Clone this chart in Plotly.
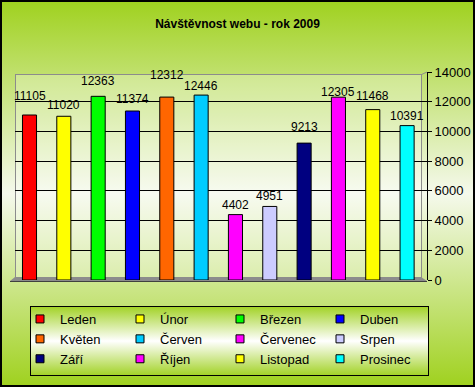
import base64
import plotly.graph_objects as go

# ---- data ----
months = ["Leden", "Únor", "Březen", "Duben", "Květen", "Červen",
          "Červenec", "Srpen", "Září", "Říjen", "Listopad", "Prosinec"]
visits = [11105, 11020, 12363, 11374, 12312, 12446,
          4402, 4951, 9213, 12305, 11468, 10391]
colors = ["#ff0000", "#ffff00", "#00ff00", "#0000ff", "#ff6600", "#00ccff",
          "#ff00ff", "#ccccff", "#000080", "#ff00ff", "#ffff00", "#00ffff"]
title_text = "Návštěvnost webu - rok 2009"
y_ticks = [0, 2000, 4000, 6000, 8000, 10000, 12000, 14000]

# ---- styling: how far (px) each value label sits above its bar top ----
label_lift = [19, 11, 15, 12, 22, 9, 10, 10, 16, 5, 14, 10]

W, H = 475, 387
L, R, T, B = 15, 427, 72, 280          # plot area in pixels


def px_x(p):
    return p / W


def px_y(p):
    return (H - p) / H


# ---- decorative background (gradient page, back wall, floor, legend box) ----
svg = f'''<svg xmlns="http://www.w3.org/2000/svg" width="{W}" height="{H}" viewBox="0 0 {W} {H}">
<defs>
<linearGradient id="bg" x1="0" y1="0" x2="0" y2="1">
<stop offset="0" stop-color="#9fd11e"/>
<stop offset="0.5" stop-color="#f5f9ec"/>
<stop offset="1" stop-color="#9fd11e"/>
</linearGradient>
<linearGradient id="lg" x1="0" y1="0" x2="0" y2="1">
<stop offset="0" stop-color="#a2d226"/>
<stop offset="0.5" stop-color="#ffffff"/>
<stop offset="1" stop-color="#a2d226"/>
</linearGradient>
</defs>
<rect x="0" y="0" width="{W}" height="{H}" fill="url(#bg)"/>
<rect x="15.5" y="74.5" width="406" height="203" fill="#ffffff" fill-opacity="0.25" stroke="#8c8c8c" stroke-width="1"/>
<line x1="421.5" y1="74.5" x2="427" y2="72" stroke="#8c8c8c" stroke-width="1"/>
<polygon points="10,281 15,277 421,277 427,281" fill="#8c8c8c"/>
<line x1="10" y1="281.5" x2="427" y2="281.5" stroke="#404040" stroke-width="1"/>
<rect x="30.5" y="306.5" width="398" height="69" fill="url(#lg)" stroke="#000000" stroke-width="1"/>
<rect x="1" y="1" width="{W-2}" height="{H-2}" fill="none" stroke="#000000" stroke-width="2"/>
</svg>'''
svg_uri = "data:image/svg+xml;base64," + base64.b64encode(svg.encode("utf-8")).decode("ascii")

fig = go.Figure()

x_idx = list(range(len(months)))
fig.add_trace(go.Bar(
    x=x_idx, y=visits,
    marker=dict(color=colors, line=dict(color="#000000", width=1)),
    width=0.41,
    showlegend=False,
    hovertext=months,
    hoverinfo="text+y",
))

# legend entries
for m, c in zip(months, colors):
    fig.add_trace(go.Scatter(
        x=[None], y=[None], mode="markers", name=m,
        marker=dict(symbol="square", size=8, color=c, line=dict(color="#000000", width=1)),
    ))

annotations = []
for i, v, lift in zip(x_idx, visits, label_lift):
    annotations.append(dict(
        x=i, y=v, xref="x", yref="y", text=str(v), showarrow=False,
        xanchor="center", yanchor="middle", yshift=lift,
        font=dict(family="Liberation Sans, Arial, sans-serif", size=12, color="#000000"),
    ))

fig.update_layout(
    width=W, height=H,
    margin=dict(l=0, r=0, t=0, b=0, pad=0),
    paper_bgcolor="#d0e8a0",
    plot_bgcolor="rgba(0,0,0,0)",
    title=dict(text="<b>" + title_text + "</b>", x=0.5, xref="container", xanchor="center",
               y=1 - 24 / H, yref="container", yanchor="middle",
               font=dict(family="Liberation Sans, Arial, sans-serif", size=12, color="#000000")),
    xaxis=dict(visible=False, range=[-0.4225, 11.58], fixedrange=True,
               domain=[px_x(L), px_x(R)]),
    yaxis=dict(side="right", range=[0, 14000], tickvals=y_ticks,
               ticktext=[str(v) for v in y_ticks],
               domain=[px_y(B), px_y(T)],
               showgrid=True, gridcolor="#000000", gridwidth=1,
               showline=True, linecolor="#000000", linewidth=1,
               ticks="outside", ticklen=4, tickcolor="#000000",
               zeroline=False, automargin=False,
               tickfont=dict(family="Liberation Sans, Arial, sans-serif", size=13, color="#000000")),
    legend=dict(orientation="h", x=px_x(20), xanchor="left",
                y=px_y(304), yanchor="top",
                entrywidth=55, entrywidthmode="pixels",
                bgcolor="rgba(0,0,0,0)", borderwidth=0,
                font=dict(family="Liberation Sans, Arial, sans-serif", size=13, color="#000000")),
    annotations=annotations,
    images=[dict(source=svg_uri, xref="paper", yref="paper",
                 x=0, y=1, sizex=1, sizey=1,
                 xanchor="left", yanchor="top", sizing="stretch", layer="below")],
)

fig.write_html(
    "out.html",
    config={"displayModeBar": False},
    post_script="document.body.style.margin='0';document.body.style.overflow='hidden';",
)
